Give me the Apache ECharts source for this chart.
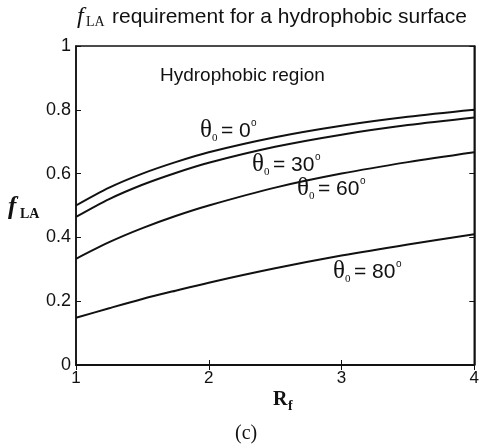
<!DOCTYPE html>
<html><head><meta charset="utf-8">
<script src="https://cdn.jsdelivr.net/npm/echarts@6/dist/echarts.min.js"></script>
<style>html,body{margin:0;padding:0;background:#fff}#c{width:482px;height:448px}</style>
</head><body><div id="c"></div>
<script>
var rf = [1, 1.25, 1.5, 1.75, 2, 2.5, 3, 3.5, 4];
var theta0 = [0.50, 0.556, 0.60, 0.636, 0.667, 0.714, 0.75, 0.778, 0.80];
var theta30 = [0.464, 0.520, 0.565, 0.602, 0.634, 0.684, 0.722, 0.752, 0.776];
var theta60 = [0.333, 0.385, 0.429, 0.467, 0.50, 0.556, 0.60, 0.636, 0.667];
var theta80 = [0.148, 0.178, 0.207, 0.233, 0.258, 0.303, 0.343, 0.378, 0.41];
var seriesNames = ['θ0 = 0°', 'θ0 = 30°', 'θ0 = 60°', 'θ0 = 80°'];
var xTicks = [1, 2, 3, 4];
var yTicks = [0, 0.2, 0.4, 0.6, 0.8, 1];

function pairs(ys){ return rf.map(function(x,i){ return [x, ys[i]]; }); }
var sans = 'Liberation Sans, Arial, sans-serif';
var serif = 'Liberation Serif, Times New Roman, serif';

function thetaLabel(x, y, deg){
  return { type:'group', x:x, y:y, children:[
    {type:'text', y:-1, style:{text:'θ', font:'25px '+serif, fill:'#111', textVerticalAlign:'middle'}},
    {type:'text', x:12, y:7, style:{text:'0', font:'11px '+serif, fill:'#111', textVerticalAlign:'middle'}},
    {type:'text', x:21, style:{text:'= '+deg, font:'21px '+sans, fill:'#111', textVerticalAlign:'middle'}},
    {type:'text', x:21 + 18 + deg.length*12, y:-8, style:{text:'o', font:'10px '+sans, fill:'#111', textVerticalAlign:'middle'}}
  ]};
}

var chart = echarts.init(document.getElementById('c'));
var axisLine = {lineStyle:{color:'#111', width:1.5}};
chart.setOption({
  animation:false,
  backgroundColor:'#fff',
  grid:{left:76, right:5, top:46, bottom:83, show:true, borderColor:'#111', borderWidth:1.5},
  xAxis:[{type:'value', min:1, max:4, interval:1, axisLine:axisLine,
    axisTick:{inside:true, length:5, lineStyle:{color:'#111'}},
    axisLabel:{color:'#111', fontSize:17, fontFamily:sans, margin:5},
    splitLine:{show:false}},
    {type:'value', position:'top', min:1, max:4, interval:1, axisLine:axisLine,
    axisTick:{inside:true, length:5, lineStyle:{color:'#111'}}, axisLabel:{show:false}, splitLine:{show:false}}],
  yAxis:[{type:'value', min:0, max:1, interval:0.2, axisLine:axisLine,
    axisTick:{inside:true, length:5, lineStyle:{color:'#111'}},
    axisLabel:{color:'#111', fontSize:18, fontFamily:sans, margin:5},
    splitLine:{show:false}},
    {type:'value', position:'right', min:0, max:1, interval:0.2, axisLine:axisLine,
    axisTick:{inside:true, length:5, lineStyle:{color:'#111'}}, axisLabel:{show:false}, splitLine:{show:false}}],
  series:[theta0, theta30, theta60, theta80].map(function(d,i){
    return {type:'line', name:seriesNames[i], data:pairs(d), smooth:0.3, showSymbol:false,
      lineStyle:{color:'#111', width:2}};
  }),
  graphic:[
    {type:'group', x:77, y:17, children:[
      {type:'text', style:{text:'f', font:'italic 24px '+serif, fill:'#111', textVerticalAlign:'middle'}},
      {type:'text', x:9, y:5, style:{text:'LA', font:'14px '+serif, fill:'#111', textVerticalAlign:'middle'}},
      {type:'text', x:35, style:{text:'requirement for a hydrophobic surface', font:'21px '+sans, fill:'#111', textVerticalAlign:'middle'}}
    ]},
    {type:'group', x:8, y:208, children:[
      {type:'text', style:{text:'f', font:'italic bold 25px '+serif, fill:'#111', textVerticalAlign:'middle'}},
      {type:'text', x:12, y:6, style:{text:'LA', font:'bold 14px '+serif, fill:'#111', textVerticalAlign:'middle'}}
    ]},
    {type:'group', x:273, y:400, children:[
      {type:'text', style:{text:'R', font:'bold 20px '+serif, fill:'#111', textVerticalAlign:'middle'}},
      {type:'text', x:15, y:6, style:{text:'f', font:'bold 14px '+serif, fill:'#111', textVerticalAlign:'middle'}}
    ]},
    {type:'text', x:235, y:434, style:{text:'(c)', font:'20px '+serif, fill:'#111', textVerticalAlign:'middle'}},
    {type:'text', x:160, y:76, style:{text:'Hydrophobic region', font:'19px '+sans, fill:'#111', textVerticalAlign:'middle'}},
    thetaLabel(200, 131, '0'),
    thetaLabel(252, 165, '30'),
    thetaLabel(297, 189, '60'),
    thetaLabel(333, 272, '80')
  ]
});
</script></body></html>
